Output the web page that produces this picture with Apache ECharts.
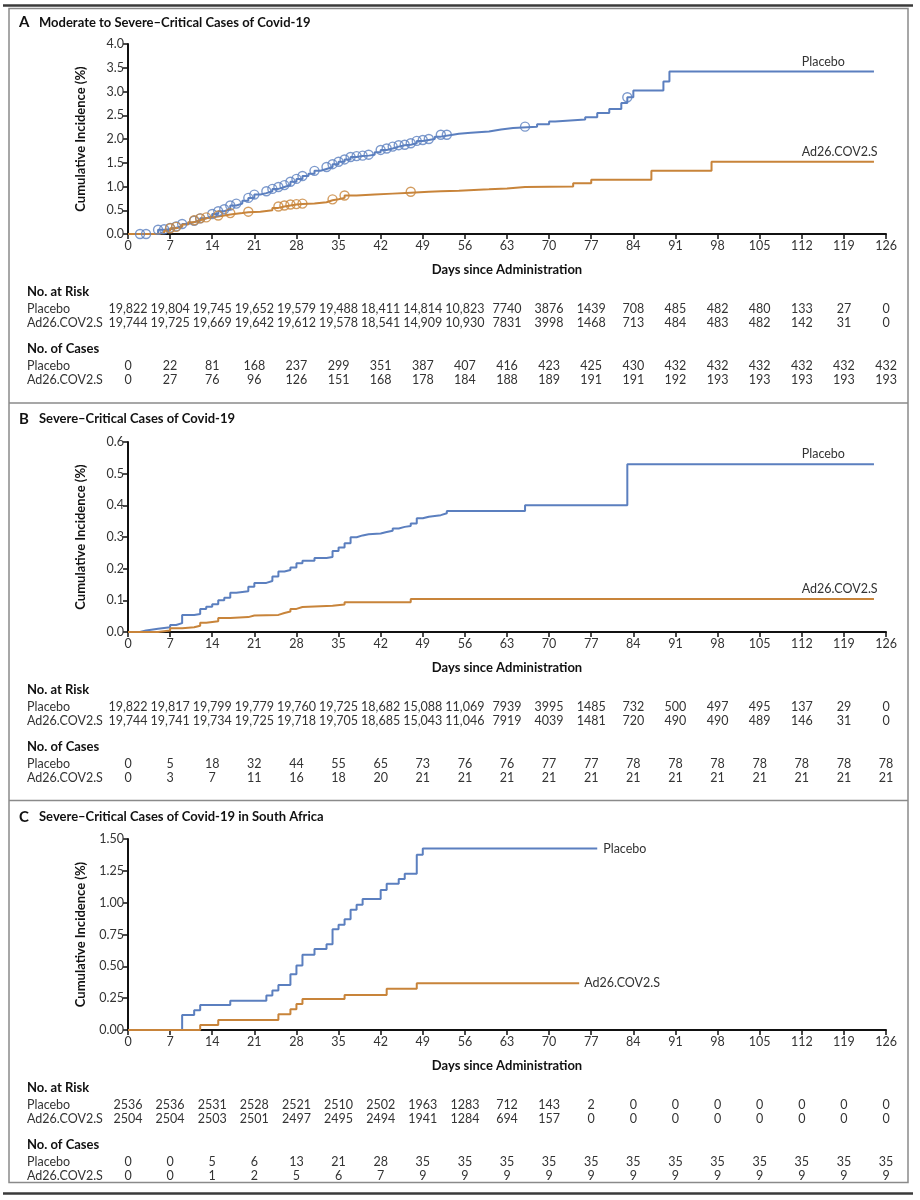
<!DOCTYPE html>
<html>
<head>
<meta charset="utf-8">
<script src="https://cdn.jsdelivr.net/npm/echarts@6/dist/echarts.min.js"></script>
<style>
  html, body { margin: 0; padding: 0; background: #fff; }
  #chart { width: 920px; height: 1200px; }
</style>
</head>
<body>
<div id="chart"></div>
<script>
// day ticks shared by the three panels
var dayTicks = [0, 7, 14, 21, 28, 35, 42, 49, 56, 63, 70, 77, 84, 91, 98, 105, 112, 119, 126];

// Panel A: moderate to severe-critical
var placeboA = [[0,0],[5,0.09],[6,0.1],[7,0.13],[8,0.16],[9,0.21],[10,0.25],[11,0.28],[12,0.33],[13,0.37],[14,0.42],[15,0.48],[16,0.52],[17,0.6],[18,0.64],[19,0.7],[20,0.76],[21,0.83],[22,0.86],[23,0.9],[24,0.95],[25,0.99],[26,1.03],[27,1.1],[28,1.16],[29,1.22],[30,1.27],[31,1.33],[32,1.37],[33,1.41],[34,1.47],[35,1.52],[36,1.57],[37,1.62],[38,1.64],[39,1.65],[40,1.67],[41,1.72],[42,1.77],[43,1.8],[44,1.84],[45,1.87],[46,1.88],[47,1.91],[48,1.96],[49,1.98],[50,2.0],[51,2.05],[52,2.09],[54,2.11],[55,2.13],[57,2.16],[60,2.2],[62,2.23],[64,2.26],[68,2.31],[70,2.37],[71,2.41],[76,2.46],[78,2.55],[80,2.63],[82,2.76],[83,2.88],[84,3.02],[89,3.21],[90,3.42],[124,3.42]];
var vaccineA = [[0,0],[5,0.02],[6,0.07],[7,0.12],[8,0.15],[9,0.2],[10,0.25],[11,0.29],[12,0.33],[13,0.35],[14,0.37],[15,0.39],[16,0.41],[17,0.44],[19,0.46],[20,0.47],[22,0.5],[24,0.55],[25,0.58],[26,0.6],[27,0.62],[28,0.63],[29,0.64],[31,0.67],[33,0.71],[34,0.73],[35,0.76],[36,0.81],[38,0.83],[41,0.85],[44,0.87],[47,0.89],[50,0.9],[52,0.91],[55,0.94],[60,0.96],[63,0.99],[66,1.0],[74,1.07],[77,1.14],[87,1.33],[97,1.52],[124,1.52]];
var placeboCensorA = [2,3,5,6,7,8,9,11,12,14,15,16,17,18,20,21,23,24,25,26,27,28,29,31,33,34,35,36,37,38,39,40,42,43,44,45,46,47,48,49,50,52,53,66,83];
var vaccineCensorA = [7,8,11,12,13,15,17,20,25,26,27,28,29,34,36,47];
var riskPlaceboA = ['19,822','19,804','19,745','19,652','19,579','19,488','18,411','14,814','10,823','7740','3876','1439','708','485','482','480','133','27','0'];
var riskVaccineA = ['19,744','19,725','19,669','19,642','19,612','19,578','18,541','14,909','10,930','7831','3998','1468','713','484','483','482','142','31','0'];
var casesPlaceboA = [0,22,81,168,237,299,351,387,407,416,423,425,430,432,432,432,432,432,432];
var casesVaccineA = [0,27,76,96,126,151,168,178,184,188,189,191,191,192,193,193,193,193,193];

// Panel B: severe-critical
var placeboB = [[0,0],[2,0.005],[3,0.01],[5,0.015],[7,0.022],[8,0.028],[9,0.054],[11,0.057],[12,0.073],[13,0.08],[14,0.088],[15,0.1],[16,0.108],[17,0.124],[18,0.129],[20,0.143],[21,0.155],[23,0.161],[24,0.175],[25,0.191],[26,0.196],[27,0.204],[28,0.217],[29,0.225],[31,0.234],[33,0.237],[34,0.256],[35,0.267],[36,0.28],[37,0.299],[38,0.305],[39,0.309],[40,0.311],[42,0.316],[43,0.32],[44,0.327],[45,0.332],[46,0.335],[47,0.343],[48,0.359],[49,0.364],[50,0.369],[52,0.375],[53,0.382],[66,0.4],[83,0.53],[124,0.53]];
var vaccineB = [[0,0],[5,0.005],[7,0.012],[9,0.015],[11,0.02],[12,0.029],[13,0.034],[15,0.044],[17,0.047],[20,0.052],[21,0.054],[25,0.06],[26,0.065],[27,0.073],[28,0.079],[29,0.083],[34,0.087],[36,0.094],[47,0.104],[124,0.104]];
var riskPlaceboB = ['19,822','19,817','19,799','19,779','19,760','19,725','18,682','15,088','11,069','7939','3995','1485','732','500','497','495','137','29','0'];
var riskVaccineB = ['19,744','19,741','19,734','19,725','19,718','19,705','18,685','15,043','11,046','7919','4039','1481','720','490','490','489','146','31','0'];
var casesPlaceboB = [0,5,18,32,44,55,65,73,76,76,77,77,78,78,78,78,78,78,78];
var casesVaccineB = [0,3,7,11,16,18,20,21,21,21,21,21,21,21,21,21,21,21,21];

// Panel C: severe-critical, South Africa
var placeboC = [[0,0],[9,0.118],[11,0.155],[12,0.197],[17,0.23],[23,0.27],[24,0.31],[25,0.354],[27,0.438],[28,0.506],[29,0.59],[31,0.637],[33,0.674],[34,0.792],[35,0.826],[36,0.87],[37,0.944],[38,0.983],[39,1.028],[42,1.1],[43,1.149],[45,1.185],[46,1.227],[48,1.377],[49,1.425],[78,1.425]];
var vaccineC = [[0,0],[12,0.039],[15,0.079],[25,0.123],[27,0.163],[28,0.205],[29,0.244],[36,0.275],[43,0.323],[48,0.367],[75,0.367]];
var riskPlaceboC = ['2536','2536','2531','2528','2521','2510','2502','1963','1283','712','143','2','0','0','0','0','0','0','0'];
var riskVaccineC = ['2504','2504','2503','2501','2497','2495','2494','1941','1284','694','157','0','0','0','0','0','0','0','0'];
var casesPlaceboC = [0,0,5,6,13,21,28,35,35,35,35,35,35,35,35,35,35,35,35];
var casesVaccineC = [0,0,1,2,5,6,7,9,9,9,9,9,9,9,9,9,9,9,9];

var panelTitles = ['Moderate to Severe\u2013Critical Cases of Covid-19', 'Severe\u2013Critical Cases of Covid-19', 'Severe\u2013Critical Cases of Covid-19 in South Africa'];
var panelLetters = ['A', 'B', 'C'];
var groupNames = ['Placebo', 'Ad26.COV2.S'];

var BLUE = '#5b7fbf', ORANGE = '#c8843a', FONT = 'Lato';

// value of a step curve at a given day
function stepValue(curve, day) {
  var v = 0;
  for (var i = 0; i < curve.length; i++) {
    if (curve[i][0] <= day) v = curve[i][1];
  }
  return v;
}
function censorPoints(curve, days) {
  return days.map(function (d) { return [d, stepValue(curve, d)]; });
}

var grids = [
  { left: 128, top: 44, width: 758, height: 190 },
  { left: 128, top: 442, width: 758, height: 190 },
  { left: 128, top: 839, width: 758, height: 191 }
];
var yCfg = [
  { max: 4, interval: 0.5, dec: 1 },
  { max: 0.6, interval: 0.1, dec: 1 },
  { max: 1.5, interval: 0.25, dec: 2 }
];

var xAxes = grids.map(function (g, i) {
  return {
    gridIndex: i, type: 'value', min: 0, max: 126, interval: 7,
    name: 'Days since Administration', nameLocation: 'middle', nameGap: 29,
    nameTextStyle: { fontFamily: FONT, fontWeight: 'bold', fontSize: 13, color: '#111' },
    axisLine: { show: true, lineStyle: { color: '#111', width: 2 } },
    axisTick: { show: true, inside: false, length: 5, lineStyle: { color: '#111', width: 1.5 } },
    axisLabel: { fontFamily: FONT, fontSize: 12.5, color: '#333', margin: 5 },
    splitLine: { show: false }
  };
});
var yAxes = yCfg.map(function (c, i) {
  return {
    gridIndex: i, type: 'value', min: 0, max: c.max, interval: c.interval,
    name: 'Cumulative Incidence (%)', nameLocation: 'middle', nameRotate: 90, nameGap: 41,
    nameTextStyle: { fontFamily: FONT, fontWeight: 'bold', fontSize: 13, color: '#111' },
    axisLine: { show: true, lineStyle: { color: '#111', width: 2 } },
    axisTick: { show: true, inside: false, length: 5, lineStyle: { color: '#111', width: 1.5 } },
    axisLabel: {
      fontFamily: FONT, fontSize: 12.5, color: '#333', margin: 4,
      formatter: function (v) { return v.toFixed(c.dec); }
    },
    splitLine: { show: false }
  };
});

function stepSeries(idx, data, color) {
  return {
    type: 'line', xAxisIndex: idx, yAxisIndex: idx, step: 'end', data: data,
    showSymbol: false, symbol: 'none', animation: false,
    lineStyle: { color: color, width: 2 }, z: 3
  };
}
function censorSeries(idx, data, color) {
  return {
    type: 'scatter', xAxisIndex: idx, yAxisIndex: idx, data: data,
    symbol: 'circle', symbolSize: 9, animation: false, z: 4,
    itemStyle: { color: 'rgba(255,255,255,0)', borderColor: color, borderWidth: 1.4 }
  };
}

var series = [
  stepSeries(0, placeboA, BLUE),
  stepSeries(0, vaccineA, ORANGE),
  censorSeries(0, censorPoints(placeboA, placeboCensorA), BLUE),
  censorSeries(0, censorPoints(vaccineA, vaccineCensorA), ORANGE),
  stepSeries(1, placeboB, BLUE),
  stepSeries(1, vaccineB, ORANGE),
  stepSeries(2, placeboC, BLUE),
  stepSeries(2, vaccineC, ORANGE)
];

var chart = echarts.init(document.getElementById('chart'), null, { renderer: 'canvas' });
chart.setOption({
  backgroundColor: '#fff',
  animation: false,
  grid: grids,
  xAxis: xAxes,
  yAxis: yAxes,
  series: series
});

// frame, titles, curve labels and risk tables
var g = [];
function txt(x, y, s, opt) {
  opt = opt || {};
  g.push({
    type: 'text', x: x, y: y, silent: true,
    style: {
      text: String(s), fontFamily: FONT, fontSize: opt.size || 12,
      fontWeight: opt.bold ? 'bold' : 'normal', fill: opt.color || '#222',
      textAlign: opt.align || 'left', textVerticalAlign: 'middle'
    }
  });
}
function hline(x1, x2, y, w, color) {
  g.push({ type: 'line', silent: true, shape: { x1: x1, y1: y, x2: x2, y2: y }, style: { stroke: color, lineWidth: w } });
}

hline(3, 913, 5.5, 2.5, '#3a3a3a');
g.push({ type: 'rect', silent: true, shape: { x: 9, y: 8.5, width: 899, height: 1174 }, style: { fill: 'none', stroke: '#8a8a8a', lineWidth: 1.5 } });
hline(9, 908, 403, 1.5, '#8a8a8a');
hline(9, 908, 800.5, 1.5, '#8a8a8a');
hline(3, 913, 1193.5, 2.5, '#3a3a3a');

var titleY = [22.5, 419, 817];
var tables = [
  [riskPlaceboA, riskVaccineA, casesPlaceboA, casesVaccineA],
  [riskPlaceboB, riskVaccineB, casesPlaceboB, casesVaccineB],
  [riskPlaceboC, riskVaccineC, casesPlaceboC, casesVaccineC]
];
var curves = [[placeboA, vaccineA], [placeboB, vaccineB], [placeboC, vaccineC]];

for (var p = 0; p < 3; p++) {
  txt(19, titleY[p], panelLetters[p], { bold: true, size: 15, color: '#111' });
  txt(39, titleY[p], panelTitles[p], { bold: true, size: 13, color: '#111' });

  // curve labels
  var pc = curves[p][0], vc = curves[p][1];
  var pEnd = pc[pc.length - 1], vEnd = vc[vc.length - 1];
  if (p < 2) {
    var lp = chart.convertToPixel({ gridIndex: p }, [112, pEnd[1]]);
    var lv = chart.convertToPixel({ gridIndex: p }, [112, vEnd[1]]);
    txt(lp[0], lp[1] - 10, groupNames[0], { size: 12.5, color: '#333' });
    txt(lv[0], lv[1] - 10, groupNames[1], { size: 12.5, color: '#333' });
  } else {
    var ep = chart.convertToPixel({ gridIndex: p }, pEnd);
    var ev = chart.convertToPixel({ gridIndex: p }, vEnd);
    txt(ep[0] + 6, ep[1], groupNames[0], { size: 12.5, color: '#333' });
    txt(ev[0] + 5, ev[1], groupNames[1], { size: 12.5, color: '#333' });
  }

  // tables under the x axis
  var axisY = chart.convertToPixel({ gridIndex: p }, [0, 0])[1];
  var rowsY = [axisY + 75, axisY + 89, axisY + 131.5, axisY + 145.5];
  txt(27, axisY + 58, 'No. at Risk', { bold: true, size: 13, color: '#111' });
  txt(27, axisY + 115, 'No. of Cases', { bold: true, size: 13, color: '#111' });
  for (var r = 0; r < 4; r++) {
    txt(27, rowsY[r], groupNames[r % 2], { size: 12.5, color: '#333' });
    var vals = tables[p][r];
    for (var k = 0; k < dayTicks.length; k++) {
      var px = chart.convertToPixel({ gridIndex: p }, [dayTicks[k], 0])[0];
      txt(px, rowsY[r], vals[k], { size: 12.5, color: '#333', align: 'center' });
    }
  }
}

chart.setOption({ graphic: { elements: g } });
</script>
</body>
</html>
